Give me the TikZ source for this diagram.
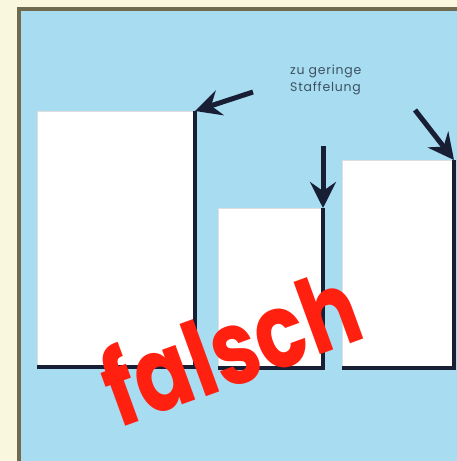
\documentclass[tikz,border=0pt]{standalone}
\usepackage{fontspec}
\setmainfont{Poppins}
\newfontfamily\stampfont[FakeStretch=0.8]{Poppins}
\newfontfamily\notefont[LetterSpace=6]{Poppins}
\usetikzlibrary{arrows.meta,positioning}
\definecolor{creamcol}{RGB}{249,247,222}
\definecolor{framecol}{RGB}{112,107,78}
\definecolor{skycol}{RGB}{168,220,241}
\definecolor{inkcol}{RGB}{24,30,52}
\definecolor{notecol}{RGB}{60,82,98}
\definecolor{falschcol}{RGB}{255,32,16}

\begin{document}
\begin{tikzpicture}[
  x=1pt, y=-1pt,
  sheet/.style={rectangle, fill=white, draw=gray!25, thin, inner sep=0pt, outer sep=0pt, anchor=north west},
  edge/.style={inkcol, line width=3.5pt},
  arr/.style={-{Stealth[length=26pt,width=26pt,inset=9pt]}, inkcol, line width=5pt},
]
\useasboundingbox (0,0) rectangle (457,461);
\fill[creamcol] (0,0) rectangle (457,461);
\filldraw[fill=skycol, draw=framecol, line width=4pt] (19,9) rectangle (462,466);
\node[sheet, minimum width=158pt, minimum height=256pt] (b1) at (37,111) {};
\node[sheet, minimum width=105pt, minimum height=160pt] (b2) at (218,208) {};
\node[sheet, minimum width=112pt, minimum height=208pt] (b3) at (342,160) {};
\draw[edge] (b1.north east) -- (b1.south east) -- (b1.south west);
\draw[edge] (b2.north east) -- (b2.south east) -- (b2.south west);
\draw[edge] (b3.north east) -- (b3.south east) -- (b3.south west);
\node[anchor=north west, align=left, font=\fontsize{12.5}{17}\notefont, text=notecol, inner sep=0pt] (note) at (290,65) {zu geringe\\Staffelung};
\coordinate (t1) at (253,92);
\coordinate (t2) at (323,146);
\coordinate (t3) at (415,110);
\draw[arr] (t1) -- (b1.north east);
\draw[arr] (t2) -- (b2.north east);
\draw[arr] (t3) -- (b3.north east);
\node[rotate=20, text=falschcol, font=\fontsize{104}{104}\stampfont\bfseries, inner sep=0pt] (falsch) at (230,345) {falsch};
\end{tikzpicture}
\end{document}
